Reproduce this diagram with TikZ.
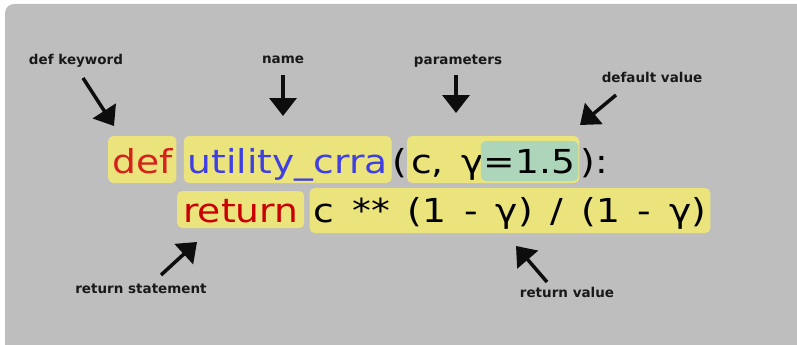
\documentclass[tikz,border=0pt]{standalone}
\usepackage{fontspec}
\setmainfont{DejaVu Sans}
\newfontfamily\codefont[FakeStretch=1.14,WordSpace=1.5]{DejaVu Sans}
\usetikzlibrary{arrows.meta,positioning}

\definecolor{panelgray}{HTML}{BEBEBE}
\definecolor{hiyellow}{HTML}{EBE47C}
\definecolor{higreen}{HTML}{ADD5BA}
\definecolor{kwred}{HTML}{D4221C}
\definecolor{retred}{HTML}{C80000}
\definecolor{fnblue}{HTML}{3F3FE2}

\tikzset{
  code/.style={font=\codefont\fontsize{33}{36}\selectfont, inner sep=0pt, anchor=base west},
  hilite/.style={code, fill=hiyellow, rounded corners=5pt, inner xsep=4pt, inner ysep=4pt,
                 text height=33pt, text depth=6pt},
  lowhilite/.style={hilite, inner xsep=6pt, text height=27pt, text depth=2pt},
  exprhilite/.style={hilite, text height=30pt, text depth=7pt},
  dflthilite/.style={code, fill=higreen, rounded corners=5pt, inner xsep=3pt, inner ysep=3pt,
                 text height=29pt, text depth=5pt},
  tag/.style={font=\bfseries\fontsize{13.5}{16}\selectfont, text=black!90, inner sep=1pt},
  pointer/.style={line width=3.5pt, black!95, -{Triangle[length=18pt,width=27pt]}}
}

\begin{document}
\begin{tikzpicture}[x=1pt,y=-1pt]
    \useasboundingbox (0,0) rectangle (797,345);
    \fill[panelgray, rounded corners=9pt] (5,4) rectangle (830,380);

    % first line of the function
    \node[hilite, text=kwred] (def) at (108,173) {def};
    \node[hilite, text=fnblue, base right=7pt of def] (fname) {utility\_crra};
    \node[code, base right=0pt of fname] (lpar) {(};
    \node[hilite, base right=0pt of lpar] (params) {c, γ\hphantom{=1.5}};
    \node[dflthilite, anchor=base east] (dflt) at ([xshift=-1pt]params.base east) {=1.5};
    \node[code, base right=1pt of params] (rpar) {):};

    % second line: the body
    \node[lowhilite, text=retred] (ret) at (177,222) {return};
    \node[exprhilite, base right=5pt of ret] (expr) {c ** (1 - γ) / (1 - γ)};

    % the captions
    \node[tag] (kwtag) at (76,61) {def keyword};
    \node[tag] (nametag) at (283,60) {name};
    \node[tag] (partag) at (458,61) {parameters};
    \node[tag] (dvtag) at (652,77) {default value};
    \node[tag] (rstag) at (141,289) {return statement};
    \node[tag] (rvtag) at (567,292) {return value};

    % where the arrows start and end
    \coordinate (kwtail) at (83,78);    \coordinate (kwtip) at (114,126);
    \coordinate (nametail) at (283,75); \coordinate (nametip) at (283,116);
    \coordinate (partail) at (456,75);  \coordinate (partip) at (456,113);
    \coordinate (dvtail) at (616,95);   \coordinate (dvtip) at (580,125);
    \coordinate (rstail) at (161,275);  \coordinate (rstip) at (197,242);
    \coordinate (rvtail) at (547,282);  \coordinate (rvtip) at (516,246);

    \draw[pointer] (kwtail) -- (kwtip);
    \draw[pointer] (nametail) -- (nametip);
    \draw[pointer] (partail) -- (partip);
    \draw[pointer] (dvtail) -- (dvtip);
    \draw[pointer] (rstail) -- (rstip);
    \draw[pointer] (rvtail) -- (rvtip);

\end{tikzpicture}
\end{document}
